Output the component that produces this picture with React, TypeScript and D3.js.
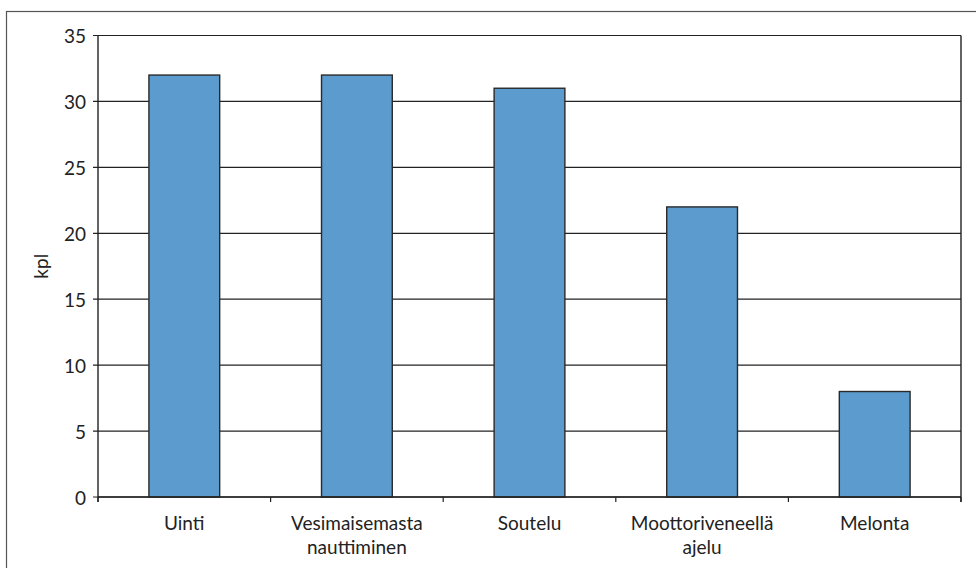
import React from "react";
import * as d3 from "d3";

// Activity categories (label lines) and counts
const categories: string[][] = [
  ["Uinti"],
  ["Vesimaisemasta", "nauttiminen"],
  ["Soutelu"],
  ["Moottoriveneellä", "ajelu"],
  ["Melonta"],
];
const counts: number[] = [32, 32, 31, 22, 8];
const yTicks: number[] = [0, 5, 10, 15, 20, 25, 30, 35];
const yLabel = "kpl";

const W = 976;
const H = 568;
const plot = { left: 98, right: 961, top: 35.5, bottom: 497 };
const FONT = "Lato, 'Open Sans', sans-serif";

export default function App() {
  const keys = categories.map((c) => c.join(" "));
  const x = d3
    .scaleBand<string>()
    .domain(keys)
    .range([plot.left, plot.right])
    .paddingInner(0.59)
    .paddingOuter(0.295);
  const y = d3.scaleLinear().domain([0, 35]).range([plot.bottom, plot.top]);
  const step = x.step();
  const boundaries = d3.range(keys.length + 1).map((i) => plot.left + i * step);

  return (
    <svg
      width={W}
      height={H}
      style={{ position: "absolute", left: 0, top: 0, background: "#fff" }}
      fontFamily={FONT}
    >
      {/* outer frame */}
      <rect x={6.5} y={11.5} width={W + 10} height={H + 10} fill="none" stroke="#555" strokeWidth={1.2} />

      {/* horizontal gridlines and y ticks */}
      {yTicks.map((t) => (
        <g key={t}>
          <line x1={plot.left - 5} x2={plot.right} y1={y(t)} y2={y(t)} stroke="#222" strokeWidth={1.2} />
          <text
            x={86}
            y={y(t)}
            textAnchor="end"
            dominantBaseline="central"
            fontSize={19}
            fill="#222"
          >
            {t}
          </text>
        </g>
      ))}

      {/* bars */}
      {keys.map((k, i) => (
        <rect
          key={k}
          x={x(k)}
          y={y(counts[i])}
          width={x.bandwidth()}
          height={y(0) - y(counts[i])}
          fill="#5b9bcd"
          stroke="#2a2a2a"
          strokeWidth={1.4}
        />
      ))}

      {/* vertical axis lines */}
      <line x1={plot.left} x2={plot.left} y1={plot.top} y2={plot.bottom + 5} stroke="#222" strokeWidth={1.4} />
      <line x1={plot.right} x2={plot.right} y1={plot.top} y2={plot.bottom + 5} stroke="#222" strokeWidth={1.4} />
      <line x1={plot.left} x2={plot.right} y1={plot.bottom} y2={plot.bottom} stroke="#222" strokeWidth={1.6} />

      {/* category boundary ticks */}
      {boundaries.map((b, i) => (
        <line key={i} x1={b} x2={b} y1={plot.bottom} y2={plot.bottom + 5} stroke="#222" strokeWidth={1.2} />
      ))}

      {/* category labels */}
      {categories.map((lines, i) => (
        <text
          key={keys[i]}
          x={(x(keys[i]) as number) + x.bandwidth() / 2}
          y={530}
          textAnchor="middle"
          fontSize={19}
          fill="#222"
        >
          {lines.map((l, j) => (
            <tspan key={j} x={(x(keys[i]) as number) + x.bandwidth() / 2} dy={j === 0 ? 0 : 24}>
              {l}
            </tspan>
          ))}
        </text>
      ))}

      {/* y axis title */}
      <text
        transform={`translate(48, ${(plot.top + plot.bottom) / 2}) rotate(-90)`}
        textAnchor="middle"
        fontSize={19}
        fill="#222"
      >
        {yLabel}
      </text>
    </svg>
  );
}
